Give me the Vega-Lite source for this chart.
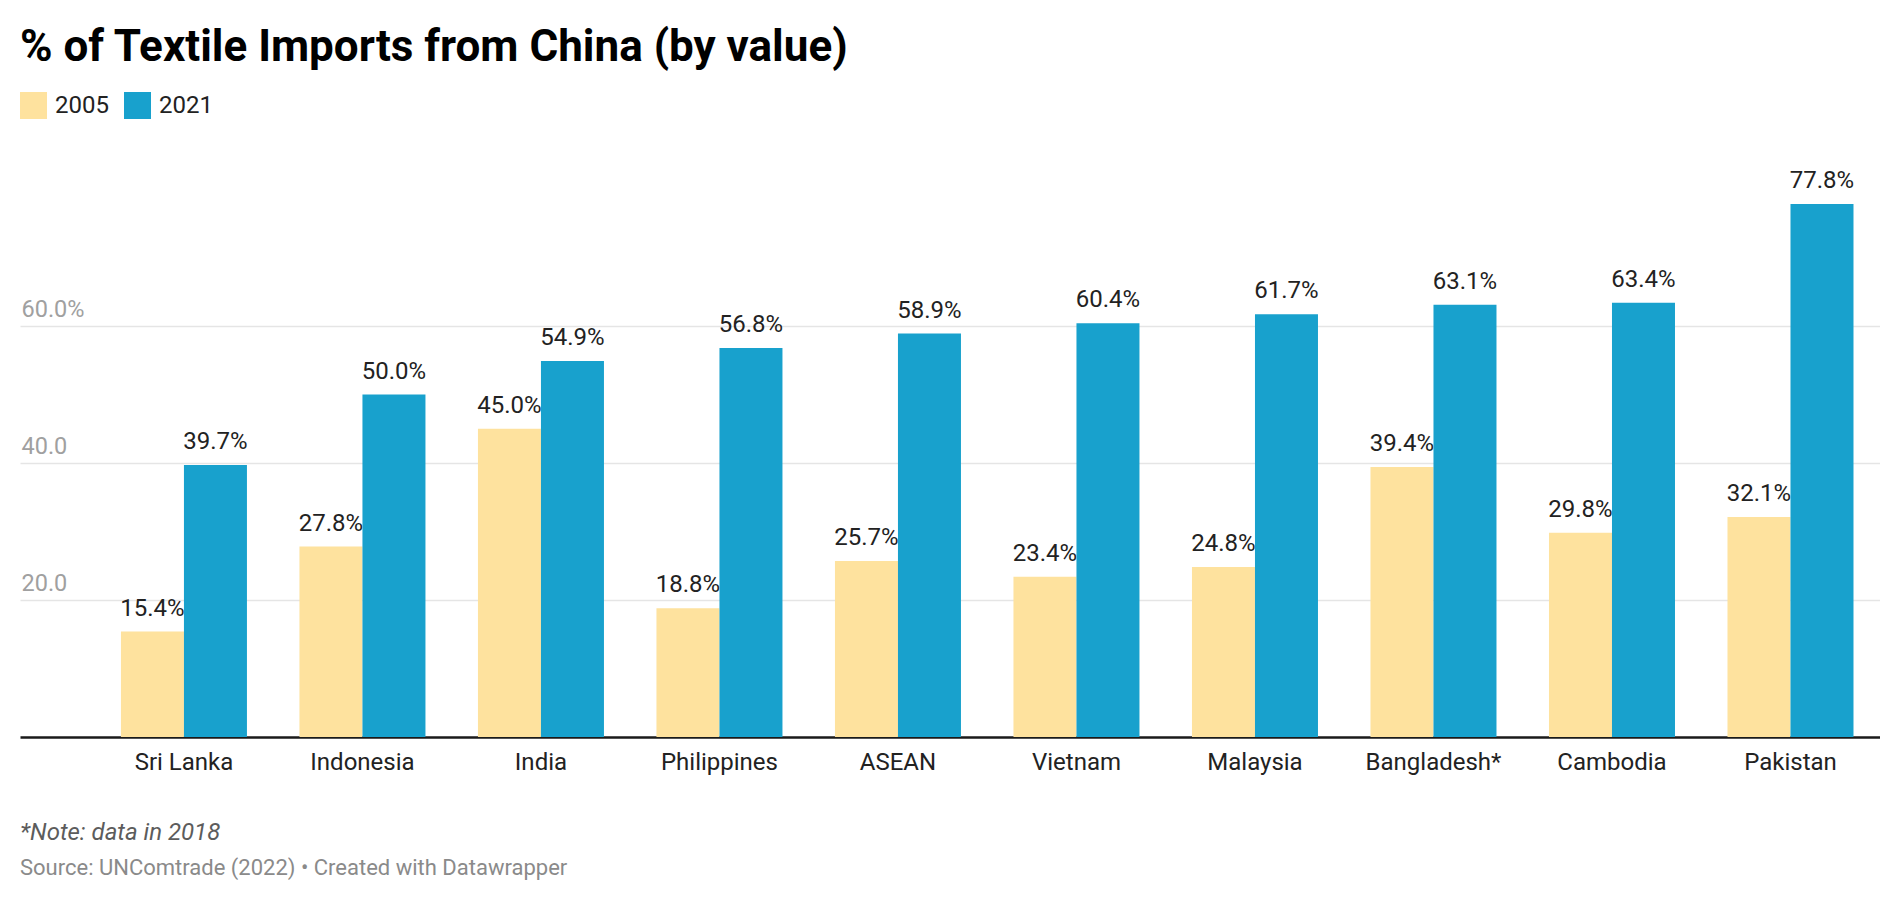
{
  "$schema": "https://vega.github.io/schema/vega-lite/v6.json",
  "background": "white",
  "padding": {"left": 20, "top": 26, "right": 0, "bottom": 0},
  "title": {
    "text": "% of Textile Imports from China (by value)",
    "anchor": "start",
    "font": "Roboto",
    "fontSize": 44,
    "fontWeight": "bold",
    "color": "#000000",
    "offset": 22
  },
  "config": {
    "font": "Roboto",
    "view": {"stroke": null},
    "concat": {"spacing": 47}
  },
  "vconcat": [
    {
      "width": 1860,
      "height": 548,
      "data": {
        "values": [
          {"country": "Sri Lanka", "year": "2005", "value": 15.4, "label": "15.4%"},
          {"country": "Sri Lanka", "year": "2021", "value": 39.7, "label": "39.7%"},
          {"country": "Indonesia", "year": "2005", "value": 27.8, "label": "27.8%"},
          {"country": "Indonesia", "year": "2021", "value": 50.0, "label": "50.0%"},
          {"country": "India", "year": "2005", "value": 45.0, "label": "45.0%"},
          {"country": "India", "year": "2021", "value": 54.9, "label": "54.9%"},
          {"country": "Philippines", "year": "2005", "value": 18.8, "label": "18.8%"},
          {"country": "Philippines", "year": "2021", "value": 56.8, "label": "56.8%"},
          {"country": "ASEAN", "year": "2005", "value": 25.7, "label": "25.7%"},
          {"country": "ASEAN", "year": "2021", "value": 58.9, "label": "58.9%"},
          {"country": "Vietnam", "year": "2005", "value": 23.4, "label": "23.4%"},
          {"country": "Vietnam", "year": "2021", "value": 60.4, "label": "60.4%"},
          {"country": "Malaysia", "year": "2005", "value": 24.8, "label": "24.8%"},
          {"country": "Malaysia", "year": "2021", "value": 61.7, "label": "61.7%"},
          {"country": "Bangladesh*", "year": "2005", "value": 39.4, "label": "39.4%"},
          {"country": "Bangladesh*", "year": "2021", "value": 63.1, "label": "63.1%"},
          {"country": "Cambodia", "year": "2005", "value": 29.8, "label": "29.8%"},
          {"country": "Cambodia", "year": "2021", "value": 63.4, "label": "63.4%"},
          {"country": "Pakistan", "year": "2005", "value": 32.1, "label": "32.1%"},
          {"country": "Pakistan", "year": "2021", "value": 77.8, "label": "77.8%"}
        ]
      },
      "encoding": {
        "x": {
          "field": "country",
          "type": "nominal",
          "sort": null,
          "scale": {"paddingInner": 0.2941, "paddingOuter": 0.357, "align": 0.792},
          "axis": {
            "title": null,
            "labelAngle": 0,
            "labelFontSize": 24,
            "labelColor": "#222222",
            "labelBaseline": "alphabetic",
            "labelPadding": 32,
            "ticks": false,
            "tickSize": 0,
            "domain": true,
            "domainColor": "#1a1a1a",
            "domainWidth": 2.5,
            "grid": false
          }
        },
        "xOffset": {
          "field": "year",
          "type": "nominal",
          "scale": {"paddingInner": 0, "paddingOuter": 0}
        },
        "y": {
          "field": "value",
          "type": "quantitative",
          "scale": {"domain": [0, 80], "nice": false},
          "axis": {
            "title": null,
            "values": [20, 40, 60],
            "labelExpr": "datum.value == 60 ? '60.0%' : format(datum.value, '.1f')",
            "labelAlign": "left",
            "labelBaseline": "alphabetic",
            "labelPadding": -1,
            "labelOffset": -10,
            "labelFlush": false,
            "labelFontSize": 23.5,
            "labelColor": "#a0a0a0",
            "ticks": false,
            "tickSize": 0,
            "domain": false,
            "grid": true,
            "gridColor": "#e5e5e5",
            "gridWidth": 1.5
          }
        }
      },
      "layer": [
        {
          "mark": {"type": "bar"},
          "encoding": {
            "color": {
              "field": "year",
              "type": "nominal",
              "scale": {"domain": ["2005", "2021"], "range": ["#fee29e", "#18a1cd"]},
              "legend": {
                "title": null,
                "orient": "top",
                "direction": "horizontal",
                "symbolType": "square",
                "symbolSize": 729,
                "symbolStrokeWidth": 0,
                "labelFontSize": 24,
                "labelColor": "#222222",
                "labelOffset": 8,
                "columnPadding": 15,
                "offset": 50
              }
            }
          }
        },
        {
          "mark": {
            "type": "text",
            "baseline": "alphabetic",
            "align": "center",
            "dy": -16,
            "fontSize": 24,
            "color": "#222222"
          },
          "encoding": {
            "text": {"field": "label", "type": "nominal"}
          }
        }
      ]
    },
    {
      "width": 1860,
      "height": 1,
      "data": {"values": []},
      "mark": "text",
      "title": {
        "text": "*Note: data in 2018",
        "subtitle": "Source: UNComtrade (2022) • Created with Datawrapper",
        "anchor": "start",
        "font": "Roboto",
        "fontSize": 24,
        "fontStyle": "italic",
        "fontWeight": "normal",
        "color": "#5c5c5c",
        "subtitleFont": "Roboto",
        "subtitleFontSize": 22,
        "subtitleColor": "#8a8a8a",
        "subtitlePadding": 13,
        "offset": 0
      }
    }
  ]
}
